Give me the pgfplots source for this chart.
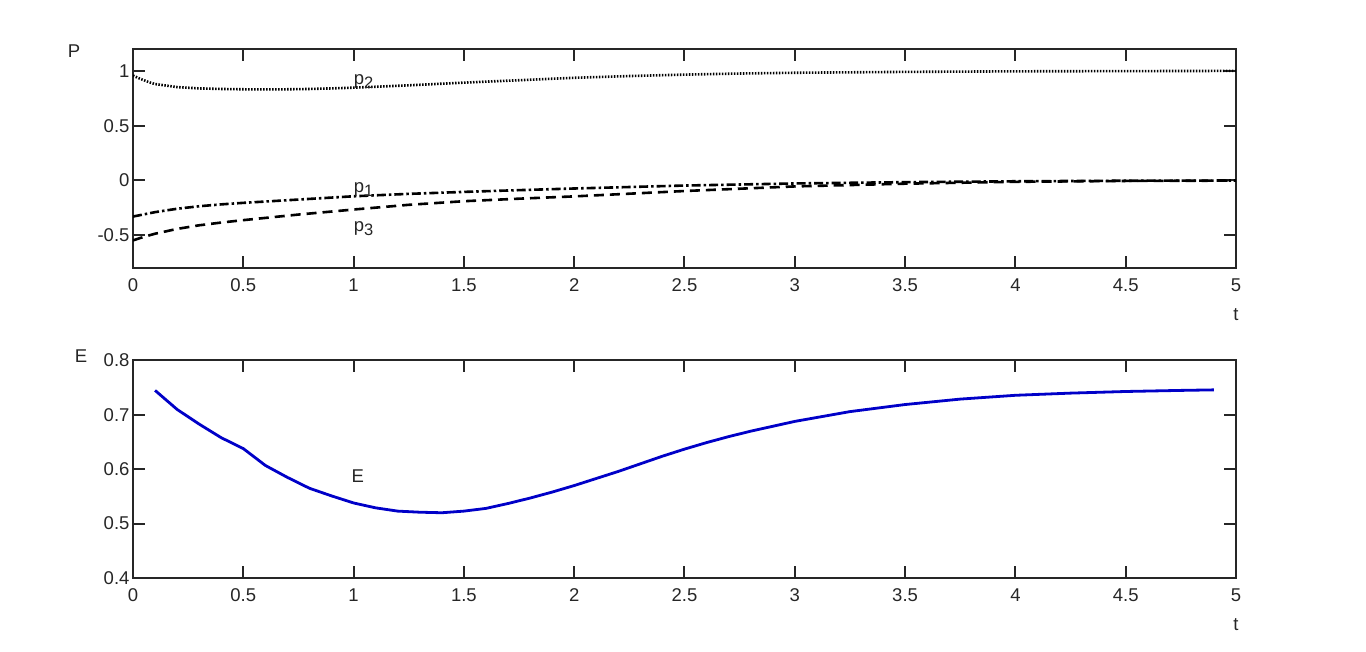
\documentclass[border=0pt]{standalone}
\usepackage{fontspec}
\setmainfont{Liberation Sans}
\usepackage{pgfplots}
\pgfplotsset{compat=1.18}

\definecolor{axgray}{HTML}{262626}
\definecolor{eblue}{RGB}{0,0,200}

\pgfplotsset{
  matax/.style={
    scale only axis,
    width=1103pt,
    axis line style={draw=axgray, line width=2pt},
    major tick style={draw=axgray, line width=2pt},
    major tick length=12pt,
    tick align=inside,
    xmin=0, xmax=5,
    xtick={0,0.5,...,5},
    font=\fontsize{18.5}{21}\selectfont,
    tick label style={text=axgray, font=\fontsize{18.5}{21}\selectfont},
    /pgf/number format/assume math mode=true,
    xticklabel style={yshift=-7pt},
    xlabel={t},
    every axis x label/.style={at={(rel axis cs:1,0)}, anchor=center, yshift=-47pt, text=axgray},
  },
}

\newcommand{\sub}[2]{#1\raisebox{-4pt}{\fontsize{16.5}{18}\selectfont #2}}

\begin{document}
\begin{tikzpicture}
\path[use as bounding box] (0,0) rectangle (1366pt,651pt);

% upper panel: p1, p2, p3
\begin{axis}[matax,
  at={(133pt,383pt)}, anchor=south west,
  height=219pt,
  ymin=-0.8, ymax=1.2,
  ytick={-0.5,0,0.5,1},
  ylabel={P},
  every axis y label/.style={at={(rel axis cs:0,1)}, anchor=center, xshift=-59pt, yshift=-2.5pt, text=axgray},
]
% p2, dotted
\addplot[black, line width=2.6pt, dash pattern=on 1.5pt off 1.5pt] coordinates {
 (0,0.957) (0.03,0.93) (0.075,0.895) (0.1,0.88) (0.2,0.852) (0.3,0.84)
 (0.4,0.835) (0.5,0.832) (0.6,0.831) (0.7,0.832) (0.8,0.835) (0.9,0.840)
 (1.0,0.847) (1.1,0.855) (1.2,0.864) (1.3,0.873) (1.4,0.883) (1.5,0.893)
 (1.75,0.915) (2.0,0.937) (2.25,0.953) (2.5,0.966) (2.75,0.976) (3.0,0.983)
 (3.5,0.991) (4.0,0.996) (4.5,0.998) (5.0,1.0)
};
% p1, dash-dot
\addplot[black, line width=2.6pt, dash pattern=on 9pt off 3pt on 2.5pt off 3pt] coordinates {
 (0,-0.330) (0.1,-0.290) (0.2,-0.259) (0.3,-0.236) (0.4,-0.219) (0.5,-0.205)
 (0.75,-0.175) (1.0,-0.145) (1.25,-0.123) (1.5,-0.105) (1.75,-0.089)
 (2.0,-0.074) (2.5,-0.047) (3.0,-0.028) (3.5,-0.016) (4.0,-0.008)
 (4.5,-0.003) (5.0,-0.001)
};
% p3, dashed
\addplot[black, line width=2.6pt, dash pattern=on 10pt off 6pt] coordinates {
 (0,-0.548) (0.05,-0.515) (0.1,-0.487) (0.2,-0.443) (0.3,-0.410) (0.4,-0.385)
 (0.5,-0.363) (0.75,-0.312) (1.0,-0.266) (1.25,-0.223) (1.5,-0.190)
 (1.75,-0.167) (2.0,-0.146) (2.5,-0.097) (3.0,-0.055) (3.5,-0.030)
 (4.0,-0.013) (4.5,-0.005) (5.0,-0.002)
};
\node[anchor=base west, inner sep=0pt, text=axgray] at (axis cs:1.0,0.878) {\sub{p}{2}};
\node[anchor=base west, inner sep=0pt, text=axgray] at (axis cs:1.0,-0.113) {\sub{p}{1}};
\node[anchor=base west, inner sep=0pt, text=axgray] at (axis cs:1.0,-0.464) {\sub{p}{3}};
\end{axis}

% lower panel: E
\begin{axis}[matax,
  at={(133pt,73pt)}, anchor=south west,
  height=217.5pt,
  ymin=0.4, ymax=0.8,
  ytick={0.4,0.5,0.6,0.7,0.8},
  ylabel={E},
  every axis y label/.style={at={(rel axis cs:0,1)}, anchor=center, xshift=-52pt, yshift=4pt, text=axgray},
]
\addplot[eblue, line width=2.8pt] coordinates {
 (0.1,0.745) (0.2,0.710) (0.3,0.683) (0.4,0.658) (0.5,0.638) (0.6,0.607)
 (0.7,0.585) (0.8,0.565) (0.9,0.551) (1.0,0.538) (1.1,0.529) (1.2,0.523)
 (1.3,0.521) (1.4,0.520) (1.5,0.523) (1.6,0.528) (1.7,0.537) (1.8,0.547)
 (1.9,0.558) (2.0,0.570) (2.1,0.583) (2.2,0.596) (2.3,0.610) (2.4,0.624)
 (2.5,0.637) (2.6,0.649) (2.7,0.660) (2.8,0.670) (2.9,0.679) (3.0,0.688)
 (3.25,0.706) (3.5,0.719) (3.75,0.729) (4.0,0.736) (4.25,0.740)
 (4.5,0.743) (4.75,0.745) (4.9,0.746)
};
\node[anchor=base west, inner sep=0pt, text=axgray] at (axis cs:0.99,0.576) {E};
\end{axis}
\end{tikzpicture}
\end{document}
